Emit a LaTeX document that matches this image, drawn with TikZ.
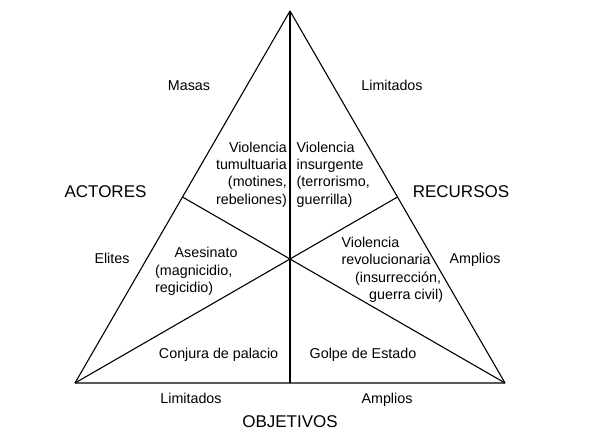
\documentclass[tikz,border=0pt]{standalone}
\usepackage{fontspec}
\setmainfont{Liberation Sans}
\usetikzlibrary{calc}
\begin{document}
\begin{tikzpicture}[x=1pt,y=-1pt,
  lbl/.style={inner sep=0pt,font=\fontsize{14.3}{17.4}\selectfont},
  big/.style={inner sep=0pt,font=\fontsize{17}{20}\selectfont},
  edge/.style={line width=1.1pt,line join=round,black}]
\useasboundingbox (0,0) rectangle (600,442);
\coordinate (A) at (290,11);
\coordinate (L) at (75,383);
\coordinate (R) at (505,383);
\coordinate (ML) at ($(A)!0.5!(L)$);
\coordinate (MR) at ($(A)!0.5!(R)$);
\coordinate (MB) at ($(L)!0.5!(R)$);
\draw[edge] (A) -- (L) -- (R) -- cycle;
\draw[edge] (A) -- (MB);
\draw[edge] (ML) -- (R);
\draw[edge] (MR) -- (L);
% axis labels
\node[lbl,anchor=base] (masas) at (189,90) {Masas};
\node[lbl,anchor=base] (limtop) at (392,90) {Limitados};
\node[big,anchor=base] (actores) at (105.5,197) {ACTORES};
\node[big,anchor=base] (recursos) at (461,197) {RECURSOS};
\node[lbl,anchor=base] (elites) at (112,263) {Elites};
\node[lbl,anchor=base] (ampright) at (475,263) {Amplios};
\node[lbl,anchor=base] (limbot) at (191,403) {Limitados};
\node[lbl,anchor=base] (ampbot) at (387,403) {Amplios};
\node[big,anchor=base] (objetivos) at (290,427) {OBJETIVOS};
% regions (base anchor = baseline of last line)
\node[lbl,align=right,anchor=base east] (tumult) at (287,204.2)
  {Violencia\\tumultuaria\\(motines,\\rebeliones)};
\node[lbl,align=left,anchor=base west] (insurg) at (296.5,204.2)
  {Violencia\\insurgente\\(terrorismo,\\guerrilla)};
\node[lbl,align=left,anchor=base west] (asesin) at (155,292.5)
  {\hspace*{19.5pt}Asesinato\\(magnicidio,\\regicidio)};
\node[lbl,align=left,anchor=base west] (revol) at (341.4,299.5)
  {Violencia\\revolucionaria\\\hspace*{13.6pt}(insurrección,\\\hspace*{27.6pt}guerra civil)};
\node[lbl,anchor=base] (conjura) at (218.6,358) {Conjura de palacio};
\node[lbl,anchor=base] (golpe) at (363,358) {Golpe de Estado};
\end{tikzpicture}
\end{document}
